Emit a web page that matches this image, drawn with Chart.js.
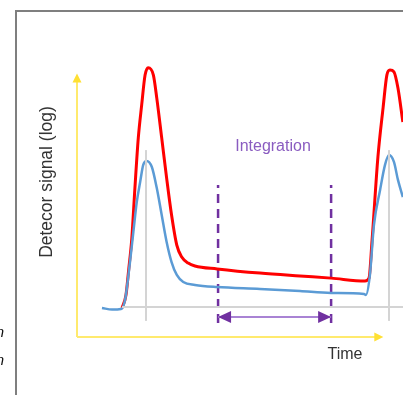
<!DOCTYPE html>
<html>
<head>
<meta charset="utf-8">
<script src="https://cdn.jsdelivr.net/npm/chart.js@4.4.1/dist/chart.umd.min.js"></script>
<style>
  html, body { margin: 0; padding: 0; background: #fff; }
  #wrap { position: relative; width: 403px; height: 395px; overflow: hidden; }
  #frame { position: absolute; left: 15px; top: 10px; right: -5px; bottom: -5px;
           border-left: 2px solid #7f7f7f; border-top: 2px solid #7f7f7f; }
  canvas { position: absolute; left: 0; top: 0; }
</style>
</head>
<body>
<div id="wrap">
  <div id="frame"></div>
  <canvas id="sketch" width="403" height="395"></canvas>
</div>
<script>
// time (arbitrary units) and detector signal (log, arbitrary units)
let redTime = [1.46, 1.59, 1.67, 1.78, 1.88, 1.99, 2.10, 2.21, 2.31, 2.48, 2.59, 2.75, 2.91, 3.07, 3.24, 3.40, 3.61, 3.83, 4.55, 5.94, 7.24, 8.25, 9.35, 9.48, 9.58, 9.77, 9.94, 10.06, 10.16, 10.29, 10.42, 10.58];
let redSignal = [1.10, 1.59, 2.46, 3.75, 5.64, 7.54, 8.79, 9.92, 10.20, 9.92, 9.05, 7.54, 6.02, 4.62, 3.48, 3.03, 2.80, 2.69, 2.58, 2.42, 2.31, 2.23, 2.12, 2.23, 3.67, 6.82, 8.71, 9.92, 10.11, 10.04, 9.43, 8.14];

let blueTime = [0.81, 1.14, 1.43, 1.56, 1.72, 1.83, 1.94, 2.05, 2.15, 2.26, 2.43, 2.59, 2.75, 2.91, 3.07, 3.24, 3.45, 3.83, 4.55, 5.94, 7.24, 8.25, 9.32, 9.38, 9.51, 9.64, 9.84, 10.0, 10.13, 10.29, 10.42, 10.58];
let blueSignal = [1.10, 1.04, 1.06, 1.40, 2.84, 3.98, 5.11, 5.87, 6.52, 6.67, 6.44, 5.64, 4.62, 3.60, 2.84, 2.35, 2.08, 1.97, 1.89, 1.82, 1.74, 1.67, 1.63, 1.59, 2.35, 4.24, 5.57, 6.52, 6.89, 6.63, 5.95, 5.30];

let peakTimes = [2.24, 10.13];
let peakMarkSignal = [0.61, 7.08];
let baseSignal = 1.14;
let baseTime = [1.46, 10.6];

let integrationTimes = [4.58, 8.25];
let integrationSignal = [0.53, 5.76];
let arrowSignal = 0.76;

let axisMax = 10;

const pts = (xs, ys) => xs.map((x, i) => ({ x: x, y: ys[i] }));

const datasets = [];
peakTimes.forEach((t) => {
  datasets.push({ data: pts([t, t], peakMarkSignal), borderColor: '#d4d4d4', borderWidth: 2 });
});
datasets.push({ data: pts(baseTime, [baseSignal, baseSignal]), borderColor: '#d4d4d4', borderWidth: 2 });
// yellow axes
datasets.push({ data: pts([0, 0], [0, axisMax - 0.25]), borderColor: '#ffea6e', borderWidth: 2, arrow: 'up' });
datasets.push({ data: pts([0, axisMax - 0.25], [0, 0]), borderColor: '#ffea6e', borderWidth: 2, arrow: 'right' });
datasets.push({ data: pts(blueTime, blueSignal), borderColor: '#5b9bd5', borderWidth: 2.5, cubicInterpolationMode: 'monotone' });
datasets.push({ data: pts(redTime, redSignal), borderColor: '#ff0000', borderWidth: 3, cubicInterpolationMode: 'monotone' });
datasets.push({ data: pts(integrationTimes, [arrowSignal, arrowSignal]), borderColor: '#a983d4', borderWidth: 2, arrow: 'both' });
integrationTimes.forEach((t) => {
  datasets.push({ data: pts([t, t], integrationSignal), borderColor: '#7030a0', borderWidth: 2.5, borderDash: [9, 6] });
});

const annotate = {
  id: 'annotate',
  afterDatasetsDraw(chart) {
    const ctx = chart.ctx;
    const xs = chart.scales.x;
    const ys = chart.scales.y;
    // arrow heads
    chart.data.datasets.forEach((ds) => {
      if (!ds.arrow) return;
      const p0 = ds.data[0];
      const p1 = ds.data[ds.data.length - 1];
      const x0 = xs.getPixelForValue(p0.x), y0 = ys.getPixelForValue(p0.y);
      const x1 = xs.getPixelForValue(p1.x), y1 = ys.getPixelForValue(p1.y);
      ctx.save();
      if (ds.arrow === 'up') {
        ctx.fillStyle = '#ffe033';
        ctx.beginPath();
        ctx.moveTo(x1, y1 - 6);
        ctx.lineTo(x1 - 4.5, y1 + 3);
        ctx.lineTo(x1 + 4.5, y1 + 3);
        ctx.fill();
      } else if (ds.arrow === 'right') {
        ctx.fillStyle = '#ffe033';
        ctx.beginPath();
        ctx.moveTo(x1 + 6, y1);
        ctx.lineTo(x1 - 3, y1 - 4.5);
        ctx.lineTo(x1 - 3, y1 + 4.5);
        ctx.fill();
      } else {
        ctx.fillStyle = '#7030a0';
        ctx.beginPath();
        ctx.moveTo(x0, y0);
        ctx.lineTo(x0 + 13, y0 - 6);
        ctx.lineTo(x0 + 13, y0 + 6);
        ctx.fill();
        ctx.beginPath();
        ctx.moveTo(x1, y1);
        ctx.lineTo(x1 - 13, y1 - 6);
        ctx.lineTo(x1 - 13, y1 + 6);
        ctx.fill();
      }
      ctx.restore();
    });

    // texts
    ctx.save();
    ctx.textBaseline = 'middle';
    ctx.textAlign = 'center';
    ctx.font = '16px "Liberation Sans", Arial, sans-serif';
    ctx.fillStyle = '#8a5cc0';
    ctx.fillText('Integration', 273, 147);
    ctx.fillStyle = '#333';
    ctx.fillText('Time', 345, 355);
    ctx.save();
    ctx.translate(47, 182);
    ctx.rotate(-Math.PI / 2);
    ctx.font = '17.5px "Liberation Sans", Arial, sans-serif';
    ctx.fillText('Detecor signal (log)', 0, 0);
    ctx.restore();
    ctx.font = 'italic 15px "Liberation Sans", Arial, sans-serif';
    ctx.textAlign = 'right';
    ctx.fillStyle = '#111';
    ctx.fillText('n', 4, 333);
    ctx.fillText('n', 4, 361);
    ctx.restore();
  },
};

new Chart(document.getElementById('sketch'), {
  type: 'line',
  data: { datasets: datasets },
  options: {
    responsive: false,
    animation: false,
    layout: { padding: 0 },
    elements: { point: { radius: 0 }, line: { tension: 0 } },
    plugins: { legend: { display: false }, tooltip: { enabled: false } },
    scales: {
      x: { type: 'linear', display: false, min: -2.5, max: 10.584 },
      y: { type: 'linear', display: false, min: -2.197, max: 12.765 },
    },
  },
  plugins: [annotate],
});
</script>
</body>
</html>
